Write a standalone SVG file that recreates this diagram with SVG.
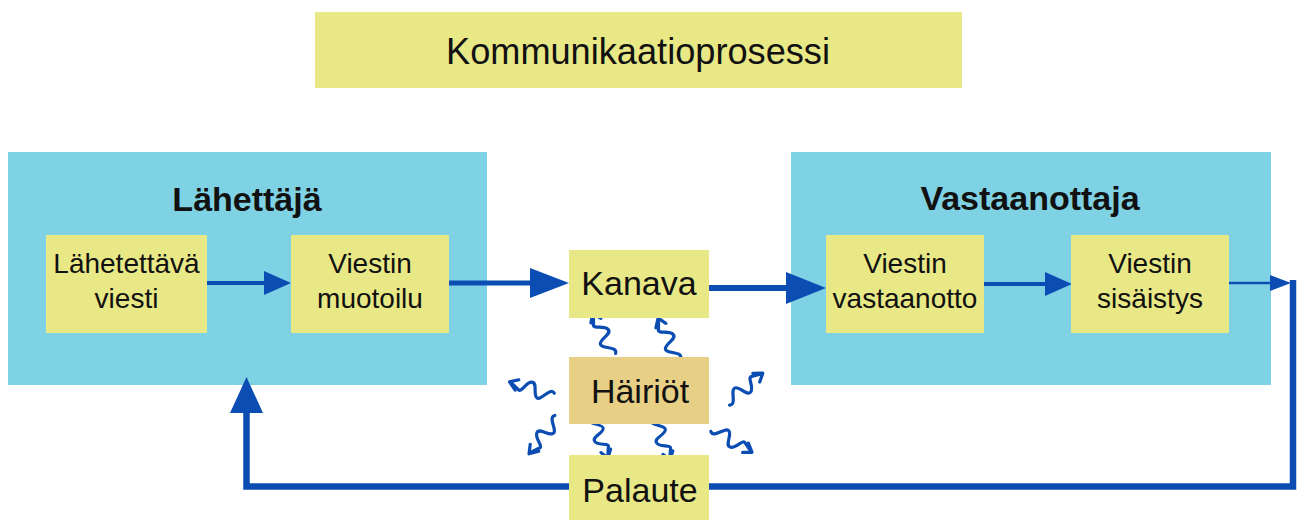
<svg xmlns="http://www.w3.org/2000/svg" xmlns:xlink="http://www.w3.org/1999/xlink" width="1298" height="520" viewBox="0 0 1298 520">
  <style>
    .panel { fill: #7fd2e4; }
    .step { fill: #e8e886; }
    .noise { fill: #e8cf86; }
    .txt { font-family: "Liberation Sans", Arial, sans-serif; fill: #111; text-anchor: middle; }
    .head { font-weight: bold; font-size: 34px; }
    .lbl { font-size: 28px; }
    .big { font-size: 34px; }
    .wire { stroke: #0b4db3; fill: none; stroke-linejoin: miter; }
    .wave { stroke: #0b4db3; fill: none; stroke-width: 3.2; stroke-linecap: round; stroke-linejoin: round; }
    .tip { fill: #0b4db3; }
  </style>
  <defs>
    <!-- one wavy disturbance arrow, pointing along +x, tip at x=46 -->
    <g id="squiggle">
      <path class="wave" d="M0,4 C6,9 10,-8 15,-6 S19,9 25,7 S31,-8 36,-4 L45,0"/>
      <path class="wave" d="M38,-6 L46,0 L38,5"/>
    </g>
  </defs>

  <!-- heading -->
  <g id="title">
    <rect class="step" x="315" y="12" width="647" height="76"/>
    <text class="txt" x="638" y="64" font-size="36" textLength="384" lengthAdjust="spacingAndGlyphs">Kommunikaatioprosessi</text>
  </g>

  <!-- sender / receiver panels -->
  <g id="sender">
    <rect class="panel" x="8" y="152" width="479" height="233"/>
    <text class="txt head" x="247" y="211">Lähettäjä</text>
  </g>
  <g id="receiver">
    <rect class="panel" x="791" y="152" width="480" height="233"/>
    <text class="txt head" x="1030" y="210" font-size="35">Vastaanottaja</text>
  </g>

  <!-- connectors -->
  <g id="connectors">
    <line class="wire" x1="207" y1="283" x2="270" y2="283" stroke-width="4"/>
    <polygon class="tip" points="291,283 264,271 264,295"/>

    <line class="wire" x1="449" y1="283" x2="535" y2="283" stroke-width="5"/>
    <polygon class="tip" points="569,283 530,268 530,298"/>

    <line class="wire" x1="709" y1="288" x2="790" y2="288" stroke-width="6"/>
    <polygon class="tip" points="826,288 786,272 786,304"/>

    <line class="wire" x1="984" y1="284" x2="1050" y2="284" stroke-width="4"/>
    <polygon class="tip" points="1072,284 1045,272 1045,296"/>

    <line class="wire" x1="1229" y1="283" x2="1275" y2="283" stroke-width="2.5"/>
    <polygon class="tip" points="1291,283 1270,275 1270,291"/>

    <polyline class="wire" points="1293,280 1293,486.5 246.5,486.5 246.5,408" stroke-width="6.5"/>
    <polygon class="tip" points="246.5,377 230,413 263,413"/>

    <!-- disturbances -->
    <use xlink:href="#squiggle" transform="translate(612,355) rotate(-114.3)"/>
    <use xlink:href="#squiggle" transform="translate(677,360) rotate(-114.3)"/>
    <use xlink:href="#squiggle" transform="translate(553,397) rotate(-160.8)"/>
    <use xlink:href="#squiggle" transform="translate(558,418) rotate(129)"/>
    <use xlink:href="#squiggle" transform="translate(727,402) rotate(-38.9)"/>
    <use xlink:href="#squiggle" transform="translate(713,428) rotate(32)"/>
    <use xlink:href="#squiggle" transform="translate(593,417) rotate(70) scale(0.95)"/>
    <use xlink:href="#squiggle" transform="translate(655,418) rotate(70.3) scale(0.97)"/>
  </g>

  <!-- process steps -->
  <g id="message">
    <rect class="step" x="46" y="235" width="161" height="98"/>
    <text class="txt lbl" x="126.5" y="273">Lähetettävä</text>
    <text class="txt lbl" x="126.5" y="308">viesti</text>
  </g>
  <g id="encoding">
    <rect class="step" x="291" y="235" width="158" height="98"/>
    <text class="txt lbl" x="370" y="273">Viestin</text>
    <text class="txt lbl" x="370" y="308">muotoilu</text>
  </g>
  <g id="channel">
    <rect class="step" x="569" y="250" width="140" height="68"/>
    <text class="txt big" x="639" y="295">Kanava</text>
  </g>
  <g id="noise">
    <rect class="noise" x="569" y="357" width="140" height="67"/>
    <text class="txt big" x="640" y="403">Häiriöt</text>
  </g>
  <g id="feedback">
    <rect class="step" x="569" y="455" width="140" height="65"/>
    <text class="txt big" x="640" y="502">Palaute</text>
  </g>
  <g id="reception">
    <rect class="step" x="826" y="235" width="158" height="98"/>
    <text class="txt lbl" x="905" y="273">Viestin</text>
    <text class="txt lbl" x="905" y="308">vastaanotto</text>
  </g>
  <g id="decoding">
    <rect class="step" x="1071" y="235" width="158" height="98"/>
    <text class="txt lbl" x="1150" y="273">Viestin</text>
    <text class="txt lbl" x="1150" y="308">sisäistys</text>
  </g>
</svg>
